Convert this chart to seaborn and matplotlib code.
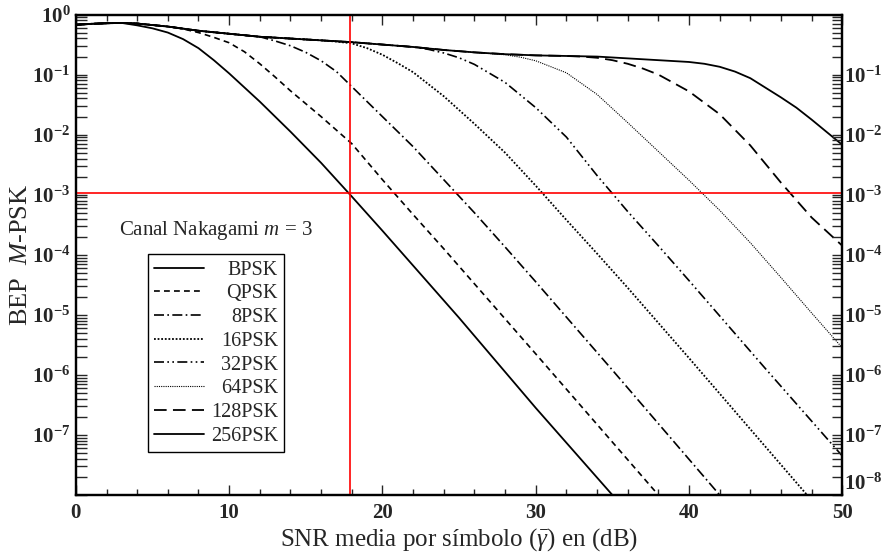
import numpy as np
import pandas as pd
import matplotlib
matplotlib.use("Agg")
import matplotlib.pyplot as plt
import matplotlib.ticker as mticker
import seaborn as sns

# shared upper envelope (SNR dB, log10 BEP)
env_snr = [0, 1, 2, 3, 4, 6, 8, 10, 12, 14, 16, 18, 20, 22, 24, 26, 28, 30, 32, 34, 36, 38, 40]
env_log = [-0.17, -0.155, -0.145, -0.14, -0.15, -0.20, -0.27, -0.32, -0.37, -0.40, -0.43, -0.46,
           -0.50, -0.54, -0.59, -0.63, -0.66, -0.68, -0.69, -0.70, -0.73, -0.76, -0.79]

# where each curve leaves the envelope, and its own tail
cut_snr = {"BPSK": 3, "QPSK": 6, "8PSK": 12, "16PSK": 16, "32PSK": 22,
           "64PSK": 26, "128PSK": 32, "256PSK": 40}
tail_snr = {
    "BPSK": [4, 5, 6, 7, 8, 9, 10, 12, 14, 16, 18, 20, 25, 30, 35],
    "QPSK": [7, 8, 9, 10, 11, 12, 13, 14, 16, 18, 20, 22, 24, 30, 38],
    "8PSK": [13, 14, 15, 16, 17, 18, 20, 22, 24, 26, 28, 30, 35, 42],
    "16PSK": [17, 18, 19, 20, 21, 22, 24, 26, 28, 30, 32, 34, 36, 40, 47.7],
    "32PSK": [23, 24, 25, 26, 28, 30, 32, 34, 36, 38, 40, 45, 50],
    "64PSK": [27, 28, 29, 30, 32, 34, 36, 38, 40, 42, 44, 46, 48, 50],
    "128PSK": [33, 34, 35, 36, 37, 38, 40, 42, 44, 46, 48, 50],
    "256PSK": [41, 42, 43, 44, 45, 46, 47, 48, 49, 50],
}
tail_log = {
    "BPSK": [-0.18, -0.23, -0.30, -0.41, -0.56, -0.76, -0.98, -1.45, -1.95, -2.47, -3.03, -3.60, -5.05, -6.55, -8.0],
    "QPSK": [-0.24, -0.30, -0.38, -0.47, -0.62, -0.82, -1.04, -1.27, -1.70, -2.15, -2.75, -3.33, -3.90, -5.65, -8.0],
    "8PSK": [-0.44, -0.52, -0.63, -0.77, -0.95, -1.20, -1.70, -2.20, -2.75, -3.30, -3.87, -4.45, -5.92, -8.0],
    "16PSK": [-0.45, -0.48, -0.56, -0.67, -0.81, -0.96, -1.36, -1.82, -2.30, -2.85, -3.42, -3.98, -4.55, -5.72, -8.0],
    "32PSK": [-0.58, -0.64, -0.72, -0.83, -1.13, -1.55, -2.04, -2.68, -3.28, -3.85, -4.43, -5.90, -7.35],
    "64PSK": [-0.65, -0.67, -0.71, -0.77, -0.97, -1.33, -1.80, -2.28, -2.76, -3.26, -3.80, -4.38, -4.97, -5.55],
    "128PSK": [-0.70, -0.72, -0.76, -0.82, -0.90, -1.00, -1.28, -1.66, -2.18, -2.80, -3.38, -3.85],
    "256PSK": [-0.82, -0.87, -0.95, -1.06, -1.22, -1.38, -1.55, -1.75, -1.96, -2.17],
}
labels = ["BPSK", "QPSK", "8PSK", "16PSK", "32PSK", "64PSK", "128PSK", "256PSK"]

# reference lines
snr_ref = 17.9
bep_ref = 1.05e-3

# line styles
styles = {
    "BPSK": dict(ls="-", lw=1.3),
    "QPSK": dict(ls=(0, (3.5, 2.5)), lw=1.2),
    "8PSK": dict(ls=(0, (6, 2, 1, 2)), lw=1.2),
    "16PSK": dict(ls=(0, (1, 1)), lw=1.3),
    "32PSK": dict(ls=(0, (6, 2, 1, 2, 1, 2)), lw=1.2),
    "64PSK": dict(ls=(0, (1, 1)), lw=0.8),
    "128PSK": dict(ls=(0, (7, 3.5)), lw=1.3),
    "256PSK": dict(ls="-", lw=1.3),
}

sns.set_style("ticks")
plt.rcParams["font.family"] = ["Liberation Serif", "DejaVu Serif"]
plt.rcParams["mathtext.fontset"] = "custom"
plt.rcParams["mathtext.rm"] = "Liberation Serif"
plt.rcParams["mathtext.it"] = "Liberation Serif:italic"
plt.rcParams["mathtext.bf"] = "Liberation Serif:bold"

fig, ax = plt.subplots(figsize=(8.82, 5.59), dpi=100)
fig.subplots_adjust(left=0.086, right=0.955, top=0.974, bottom=0.1145)

for name in labels:
    n = env_snr.index(cut_snr[name])
    snr = env_snr[:n + 1] + tail_snr[name]
    lg = env_log[:n + 1] + tail_log[name]
    df = pd.DataFrame({"snr": snr, "bep": 10.0 ** np.array(lg)})
    sns.lineplot(data=df, x="snr", y="bep", ax=ax, color="black", label=name,
                 estimator=None, sort=False, linestyle=styles[name]["ls"],
                 linewidth=styles[name]["lw"])

ax.set_yscale("log")
ax.set_xlim(0, 50)
ax.set_ylim(1e-8, 1)

ax.axvline(snr_ref, color="#ff0000", lw=1.2, zorder=5)
ax.axhline(bep_ref, color="#ff0000", lw=1.2, zorder=5)

ax.text(2.8, 10 ** -3.6, "Canal Nakagami $m$ = 3", fontsize=15, va="center", ha="left")

ax.set_xlabel(r"SNR media por símbolo ($\bar{\gamma}$) en (dB)", fontsize=18, labelpad=2)
ax.set_ylabel(r"BEP  $M$-PSK", fontsize=19, labelpad=0)

# x ticks
ax.xaxis.set_major_locator(mticker.MultipleLocator(10))
ax.xaxis.set_minor_locator(mticker.MultipleLocator(2))
ax.tick_params(axis="x", which="both", direction="in", top=True, width=1.0)
ax.tick_params(axis="x", which="major", length=7, pad=6, labelsize=15)
ax.tick_params(axis="x", which="minor", length=4)
for t in ax.get_xticklabels():
    t.set_fontweight("bold")

# y ticks, left and right
decades = [10.0 ** -k for k in range(0, 9)]
minor_loc = mticker.LogLocator(base=10, subs=np.arange(2, 10), numticks=20)


def left_fmt(v, pos):
    k = int(round(np.log10(v)))
    return "" if k == -8 else r"$\mathdefault{10^{%d}}$" % k


def right_fmt(v, pos):
    k = int(round(np.log10(v)))
    return "" if k == 0 else r"$\mathdefault{10^{%d}}$" % k


ax.yaxis.set_major_locator(mticker.FixedLocator(decades))
ax.yaxis.set_minor_locator(minor_loc)
ax.yaxis.set_major_formatter(mticker.FuncFormatter(left_fmt))
ax.yaxis.set_minor_formatter(mticker.NullFormatter())
ax.tick_params(axis="y", which="both", direction="in", length=8, width=1.0)
ax.tick_params(axis="y", which="major", pad=4, labelsize=15)

ax2 = ax.twinx()
ax2.set_yscale("log")
ax2.set_ylim(1e-8, 1)
ax2.yaxis.set_major_locator(mticker.FixedLocator(decades))
ax2.yaxis.set_minor_locator(minor_loc)
ax2.yaxis.set_major_formatter(mticker.FuncFormatter(right_fmt))
ax2.yaxis.set_minor_formatter(mticker.NullFormatter())
ax2.tick_params(axis="y", which="both", direction="in", length=7, width=1.0)
ax2.tick_params(axis="y", which="major", pad=1, labelsize=15)

for a in (ax, ax2):
    for t in a.get_yticklabels():
        t.set_fontweight("bold")
    for s in a.spines.values():
        s.set_linewidth(1.6)
        s.set_color("black")

# lift the bottom-right 10^-8 label off the x tick labels
ax2.yaxis.get_major_ticks()[-1].label2.set_verticalalignment("bottom")

leg = ax.legend(loc="lower left", bbox_to_anchor=(0.094, 0.09), fontsize=14.5,
                frameon=True, fancybox=False, shadow=False, framealpha=1,
                edgecolor="black", handlelength=2.5, labelspacing=0.23,
                borderpad=0.3, borderaxespad=0)
leg.get_frame().set_linewidth(1.0)
# right-align the labels inside the legend box
try:
    for col in leg._legend_handle_box.get_children():
        col.set_width(124)
        for row in col.get_children():
            row.mode = "expand"
except AttributeError:
    pass

fig.savefig("out.png", dpi=100)
